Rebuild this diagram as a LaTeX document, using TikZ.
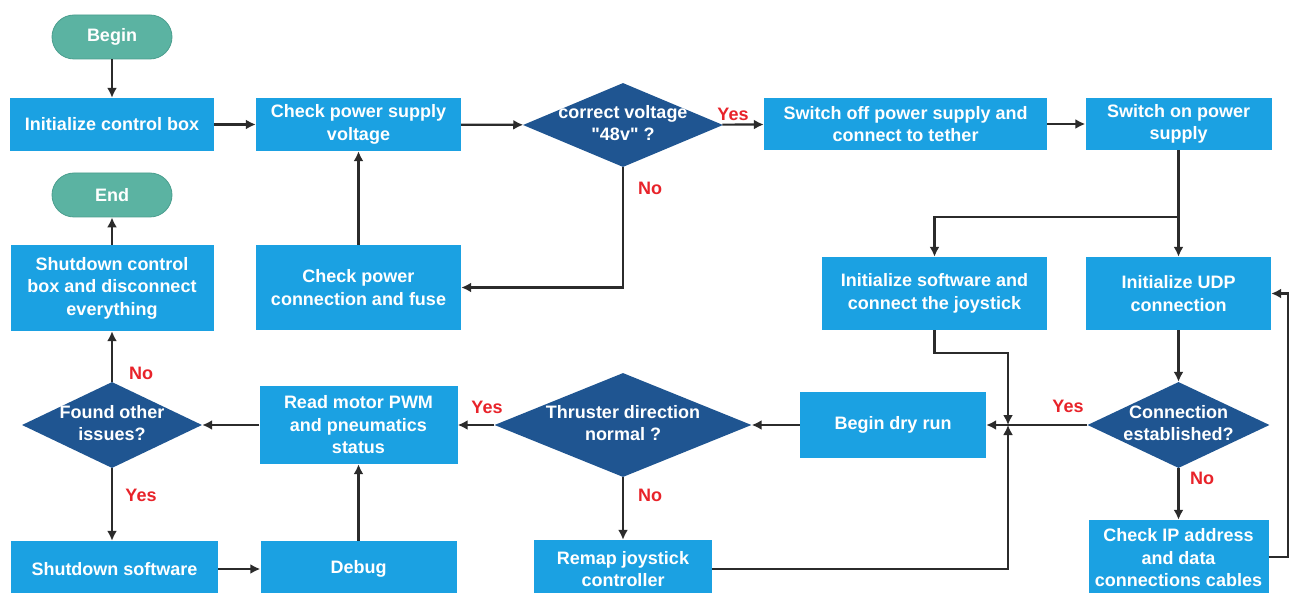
\documentclass[tikz,border=0pt]{standalone}
\usepackage{fontspec}
\setmainfont{Liberation Sans}[Ligatures=TeXOff]
\usetikzlibrary{shapes.geometric,arrows.meta}
\definecolor{boxblue}{HTML}{1BA1E2}
\definecolor{decblue}{HTML}{1F5591}
\definecolor{termteal}{HTML}{5BB3A2}
\definecolor{termedge}{HTML}{4A9E8E}
\definecolor{linegray}{HTML}{2B2B2B}
\definecolor{labred}{HTML}{E8232A}
\tikzset{
  txt/.style={font=\fontsize{18}{22.5}\selectfont\bfseries, text=white, align=center},
  procbox/.style={txt, rectangle, fill=boxblue, inner sep=0pt},
  decision/.style={diamond, fill=decblue, inner sep=0pt},
  dectext/.style={txt},
  terminal/.style={txt, rectangle, rounded corners=22pt, fill=termteal, draw=termedge, line width=0.8pt,
    minimum width=120pt, minimum height=44pt, inner sep=0pt},
  arr/.style={draw=linegray, line width=2.2pt, -{Latex[length=10pt,width=10pt]}},
  conn/.style={draw=linegray, line width=2.2pt},
  answer/.style={font=\fontsize{18}{20}\selectfont\bfseries, text=labred, inner sep=0pt}
}
\begin{document}
\begin{tikzpicture}[x=1pt,y=-1pt]
\useasboundingbox (0,0) rectangle (1290,593);
\fill[white] (0,0) rectangle (1290,593);

% terminals
\node[terminal] (begin) at (112,37) {Begin};
\node[terminal] (end) at (112,195) {End};

% top row
\node[procbox, minimum width=204pt, minimum height=53pt] (init) at (112,124.5) {Initialize control box};
\node[procbox, minimum width=205pt, minimum height=53pt] (chkv) at (358.5,124.5) {Check power supply\\voltage};
\node[decision, minimum width=200pt, minimum height=84pt] (dvolt) at (623,125) {};
\node[dectext] (tvolt) at (623,123) {correct voltage\\"48v" ?};
\node[procbox, minimum width=283pt, minimum height=52pt] (swoff) at (905.5,124) {Switch off power supply and\\connect to tether};
\node[procbox, minimum width=186pt, minimum height=52pt] (swon) at (1178.5,124) {Switch on power\\supply};

% second row
\node[procbox, minimum width=203pt, minimum height=86pt] (shutc) at (112,288) {Shutdown control\\box and disconnect\\everything};
\node[procbox, minimum width=205pt, minimum height=85pt] (chkc) at (358.5,287.5) {Check power\\connection and fuse};
\node[procbox, minimum width=225pt, minimum height=73pt] (swinit) at (934.5,293.5) {Initialize software and\\connect the joystick};
\node[procbox, minimum width=185pt, minimum height=73pt] (udp) at (1178.5,293.5) {Initialize UDP\\connection};

% third row
\node[decision, minimum width=180pt, minimum height=86pt] (dfound) at (112,425) {};
\node[dectext] (tfound) at (112,423) {Found other\\issues?};
\node[procbox, minimum width=198pt, minimum height=78pt] (read) at (358.5,425) {Read motor PWM\\and pneumatics\\status};
\node[decision, minimum width=257pt, minimum height=104pt] (dthr) at (623,425) {};
\node[dectext] (tthr) at (623,423) {Thruster direction\\normal ?};
\node[procbox, minimum width=186pt, minimum height=66pt] (dry) at (893,425) {Begin dry run};
\node[decision, minimum width=182pt, minimum height=86pt] (dconn) at (1178.5,425) {};
\node[dectext] (tconn) at (1178.5,423) {Connection\\established?};

% bottom row
\node[procbox, minimum width=207pt, minimum height=56pt] (shutsw) at (114.5,569) {Shutdown software};
\node[procbox, minimum width=196pt, minimum height=56pt] (debug) at (358.5,569) {Debug};
\node[procbox, minimum width=178pt, minimum height=58pt] (remap) at (623,569) {Remap joystick\\controller};
\node[procbox, minimum width=180pt, minimum height=76pt] (chkip) at (1178.5,558) {Check IP address\\and data\\connections cables};

% routing points
\coordinate (split) at (1178.5,217);
\coordinate (join) at (1008,425);
\coordinate (jointop) at (1008,353);
\coordinate (retx) at (1288,557);

% connectors
\draw[arr] (begin) -- (init);
\draw[arr] (init) -- (chkv);
\draw[arr] (chkv) -- (dvolt);
\draw[arr] (dvolt) -- (swoff);
\draw[arr] (swoff) -- (swon);
\draw[arr] (dvolt.south) |- (chkc.east);
\draw[arr] (chkc) -- (chkv);
\draw[conn] (swon.south) -- (split);
\draw[arr] (split) -- (udp.north);
\draw[arr] (split) -| (swinit.north);
\draw[arr] (udp) -- (dconn);
\draw[arr] (dconn) -- (dry);
\draw[arr] (dconn) -- (chkip);
\draw[arr] (chkip.east |- retx) -- (retx) |- (udp.east);
\draw[arr] (swinit.south) |- (jointop) -- (join);
\draw[arr] (remap.east) -| (join);
\draw[arr] (dry) -- (dthr);
\draw[arr] (dthr) -- (read);
\draw[arr] (dthr) -- (remap);
\draw[arr] (read) -- (dfound);
\draw[arr] (dfound) -- (shutc);
\draw[arr] (shutc) -- (end);
\draw[arr] (dfound.south) -- (dfound.south |- shutsw.north);
\draw[arr] (shutsw) -- (debug);
\draw[arr] (debug) -- (read);

% branch answers
\node[answer] (yvolt) at (733,114) {Yes};
\node[answer] (nvolt) at (650,188) {No};
\node[answer] (nfound) at (141,373) {No};
\node[answer] (yfound) at (141,495) {Yes};
\node[answer] (ythr) at (487,407) {Yes};
\node[answer] (nthr) at (650,495) {No};
\node[answer] (yconn) at (1068,406) {Yes};
\node[answer] (nconn) at (1202,478) {No};
\end{tikzpicture}
\end{document}
